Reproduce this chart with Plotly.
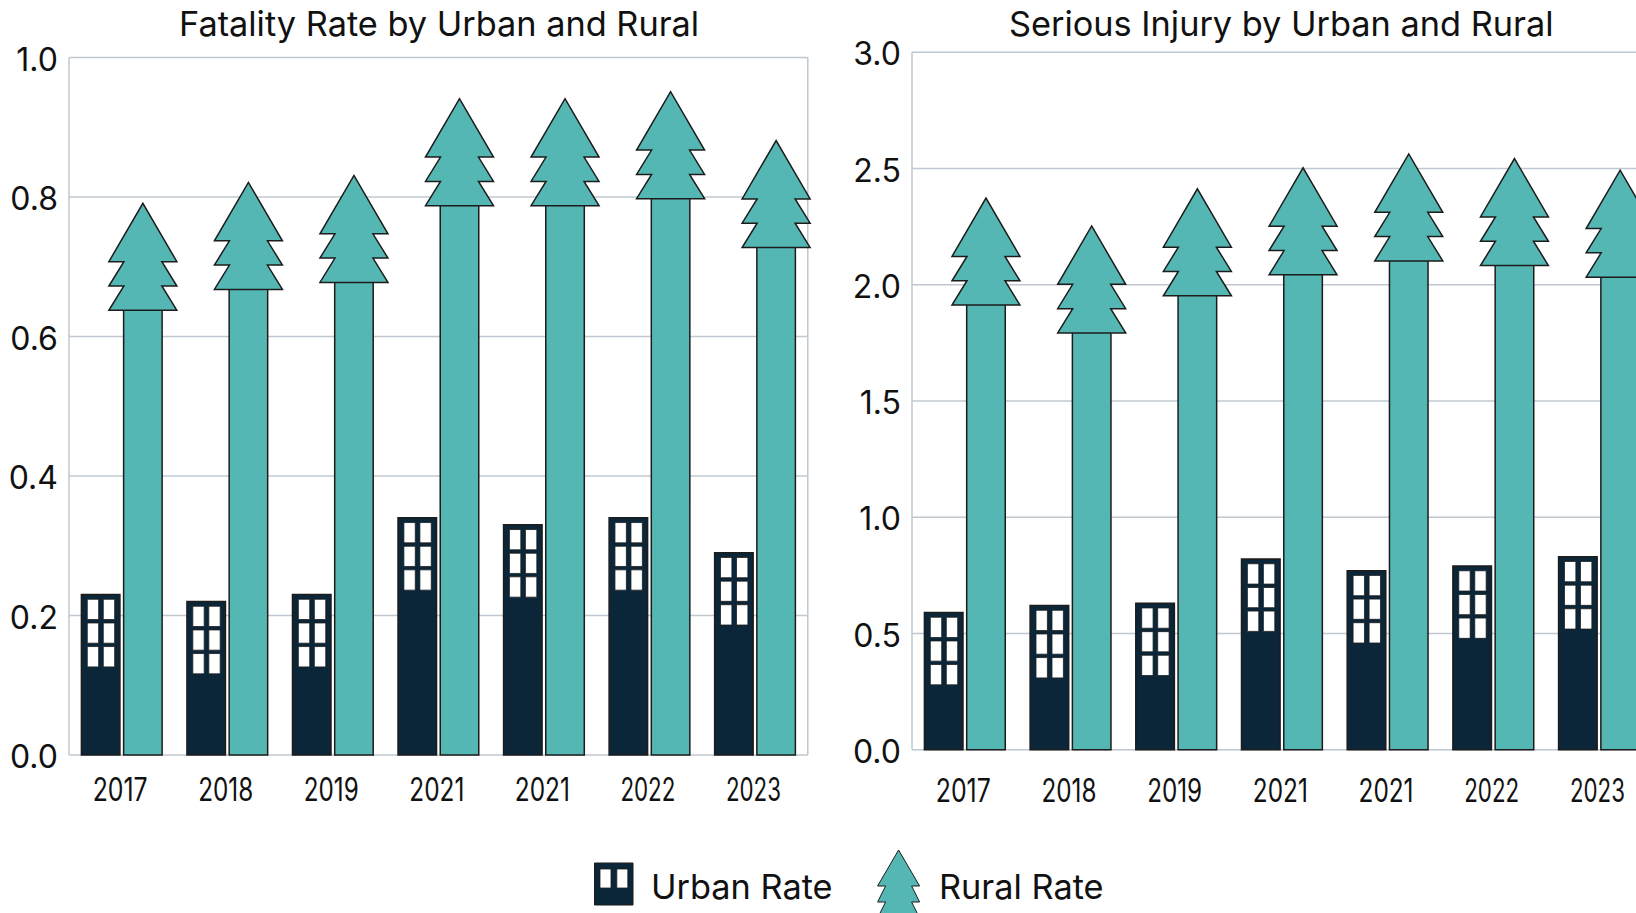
import plotly.graph_objects as go

# ---------- data ----------
years = ["2017", "2018", "2019", "2021", "2021", "2022", "2023"]
fatality_urban = [0.23, 0.22, 0.23, 0.34, 0.33, 0.34, 0.29]
fatality_rural = [0.64, 0.67, 0.68, 0.79, 0.79, 0.80, 0.73]
injury_urban = [0.59, 0.62, 0.63, 0.82, 0.77, 0.79, 0.83]
injury_rural = [1.92, 1.80, 1.96, 2.05, 2.11, 2.09, 2.04]
fatality_ticks = [0.0, 0.2, 0.4, 0.6, 0.8, 1.0]
injury_ticks = [0.0, 0.5, 1.0, 1.5, 2.0, 2.5, 3.0]
titles = ["Fatality Rate by Urban and Rural", "Serious Injury by Urban and Rural"]
legend_names = ["Urban Rate", "Rural Rate"]

# ---------- style ----------
W, H = 1636, 913
NAVY, TEAL, INK, GRID, TEXT = "#0b2639", "#55b7b3", "#1c1c1c", "#bfc8d0", "#111111"
SANS = "Inter, Roboto, sans-serif"
SHIFT = 0.2
UNIT = 105.66


def poly(points):
    return "M" + " L".join(f"{x} {y}" for x, y in points) + " Z"


def tree(half=34, inner=19, tier=24.3, height=107, drop=1.7):
    right = [(half, 0), (inner, tier), (half, tier), (inner, 2 * tier), (half, 2 * tier)]
    left = [(-x, y) for x, y in reversed(right)]
    return poly([(x, y - drop) for x, y in right + [(0, height)] + left])


def windows(xs, rows):
    return " ".join(poly([(a, -t), (b, -t), (b, -u), (a, -u)]) for t, u in rows for a, b in xs)


WIN = windows([(-13.4, -2), (2.6, 14)], [(4.7, 25), (28.4, 48.6), (52, 72.3)])
TREE = tree()

fig = go.Figure()
shapes, annotations = [], []


def panel(n, urban, rural, ticks, ymax, px_left, px_right, px_top, px_bottom, xmax, x_standoff):
    sfx = "" if n == 1 else str(n)
    xa, ya = f"x{sfx}", f"y{sfx}"
    xs = list(range(len(years)))
    for vals, col, name, off in ((urban, NAVY, legend_names[0], -SHIFT), (rural, TEAL, legend_names[1], SHIFT)):
        fig.add_bar(x=[i + off for i in xs], y=vals, width=0.365, marker=dict(color=col, line=dict(color=INK, width=1.5)),
                    name=name, xaxis=xa, yaxis=ya, showlegend=False, hoverinfo="x+y")
    pad = ymax * 0.002
    scale = (px_bottom - px_top) / ymax
    layout = {
        f"xaxis{sfx}": dict(domain=[(px_left - 1.06) / W, px_right / W], range=[-0.51, xmax], anchor=ya, tickmode="array",
                            tickvals=[i - 0.015 for i in xs], ticktext=years, showgrid=False, zeroline=False,
                            showline=False, ticks="", ticklabelstandoff=x_standoff, ticklabeloverflow="allow",
                            tickfont=dict(family=SANS, size=32, color=TEXT)),
        f"yaxis{sfx}": dict(domain=[1 - (px_bottom + pad * scale) / H, 1 - (px_top - pad * scale) / H],
                            range=[-pad, ymax + pad], anchor=xa, tickmode="array", tickvals=ticks,
                            ticktext=[f"{t:.1f}" for t in ticks], showgrid=False, zeroline=False, showline=False,
                            ticks="", ticklabelstandoff=9, ticklabelshift=2,
                            tickfont=dict(family=SANS, size=32, color=TEXT)),
    }
    fig.update_layout(**layout)
    for t in ticks:
        shapes.append(dict(type="line", xref=xa, yref=ya, x0=-0.5, x1=6.5, y0=t, y1=t, layer="below",
                           line=dict(color=GRID, width=1.5)))
    for edge in (-0.5, 6.5):
        shapes.append(dict(type="line", xref=xa, yref=ya, x0=edge, x1=edge, y0=0, y1=ymax, layer="below",
                           line=dict(color=GRID, width=1.5)))
    for i, v in enumerate(urban):
        shapes.append(dict(type="path", xref=xa, yref=ya, xsizemode="pixel", ysizemode="pixel", xanchor=i - SHIFT,
                           yanchor=v, path=WIN, fillcolor="white", line=dict(color=INK, width=0.8)))
    for i, v in enumerate(rural):
        shapes.append(dict(type="path", xref=xa, yref=ya, xsizemode="pixel", ysizemode="pixel", xanchor=i + SHIFT,
                           yanchor=v, path=TREE, fillcolor=TEAL, line=dict(color=INK, width=1.5)))
    annotations.append(dict(text=titles[n - 1], xref="paper", yref="paper", x=((px_left + px_left + 7 * UNIT) / 2) / W,
                            y=1 - 23 / H, xanchor="center", yanchor="middle", showarrow=False,
                            font=dict(family=SANS, size=34.3, color=TEXT)))


panel(1, fatality_urban, fatality_rural, fatality_ticks, 1.0, 69, 812, 57.5, 755, 6.54, 12)
panel(2, injury_urban, injury_rural, injury_ticks, 3.0, 912, 1636, 52.3, 749.7, 6.35, 18)


def px(x, y):
    return x / W, 1 - y / H


def legend_path(points):
    return " ".join(poly([px(x, y) for x, y in pts]) for pts in points)


shapes.append(dict(type="path", xref="paper", yref="paper",
                   path=legend_path([[(594.5, 863), (633, 863), (633, 905), (594.5, 905)]]),
                   fillcolor=NAVY, line=dict(color=INK, width=1)))
shapes.append(dict(type="path", xref="paper", yref="paper",
                   path=legend_path([[(600, 869), (611, 869), (611, 888), (600, 888)],
                                     [(616.8, 869), (627.8, 869), (627.8, 888), (616.8, 888)]]),
                   fillcolor="white", line=dict(color=INK, width=0.8)))
cx = 898.6
shapes.append(dict(type="path", xref="paper", yref="paper",
                   path=legend_path([[(cx, 850), (cx + 21, 886), (cx + 13, 886), (cx + 21, 902), (cx + 13, 902),
                                      (cx + 21, 918), (cx - 21, 918), (cx - 13, 902), (cx - 21, 902), (cx - 13, 886),
                                      (cx - 21, 886)]]),
                   fillcolor=TEAL, line=dict(color=INK, width=1)))
for name, x in zip(legend_names, (649, 937)):
    annotations.append(dict(text=name, xref="paper", yref="paper", x=x / W, y=1 - 886 / H, xanchor="left",
                            yanchor="middle", showarrow=False, font=dict(family=SANS, size=34.3, color=TEXT)))

fig.update_layout(width=W, height=H, margin=dict(l=0, r=0, t=0, b=0, autoexpand=False), paper_bgcolor="white",
                  plot_bgcolor="rgba(0,0,0,0)", barmode="overlay", showlegend=False, shapes=shapes,
                  annotations=annotations)
# the reference's year labels are set in a condensed cut: squeeze the real text to that width
POST = """
document.body.style.margin='0';document.documentElement.style.overflow='hidden';
document.querySelectorAll('.xtick text, .x2tick text').forEach(function(t){
  t.setAttribute('textLength','55');t.setAttribute('lengthAdjust','spacingAndGlyphs');});
"""
fig.write_html("out.html", post_script=POST, config={"displayModeBar": False})
